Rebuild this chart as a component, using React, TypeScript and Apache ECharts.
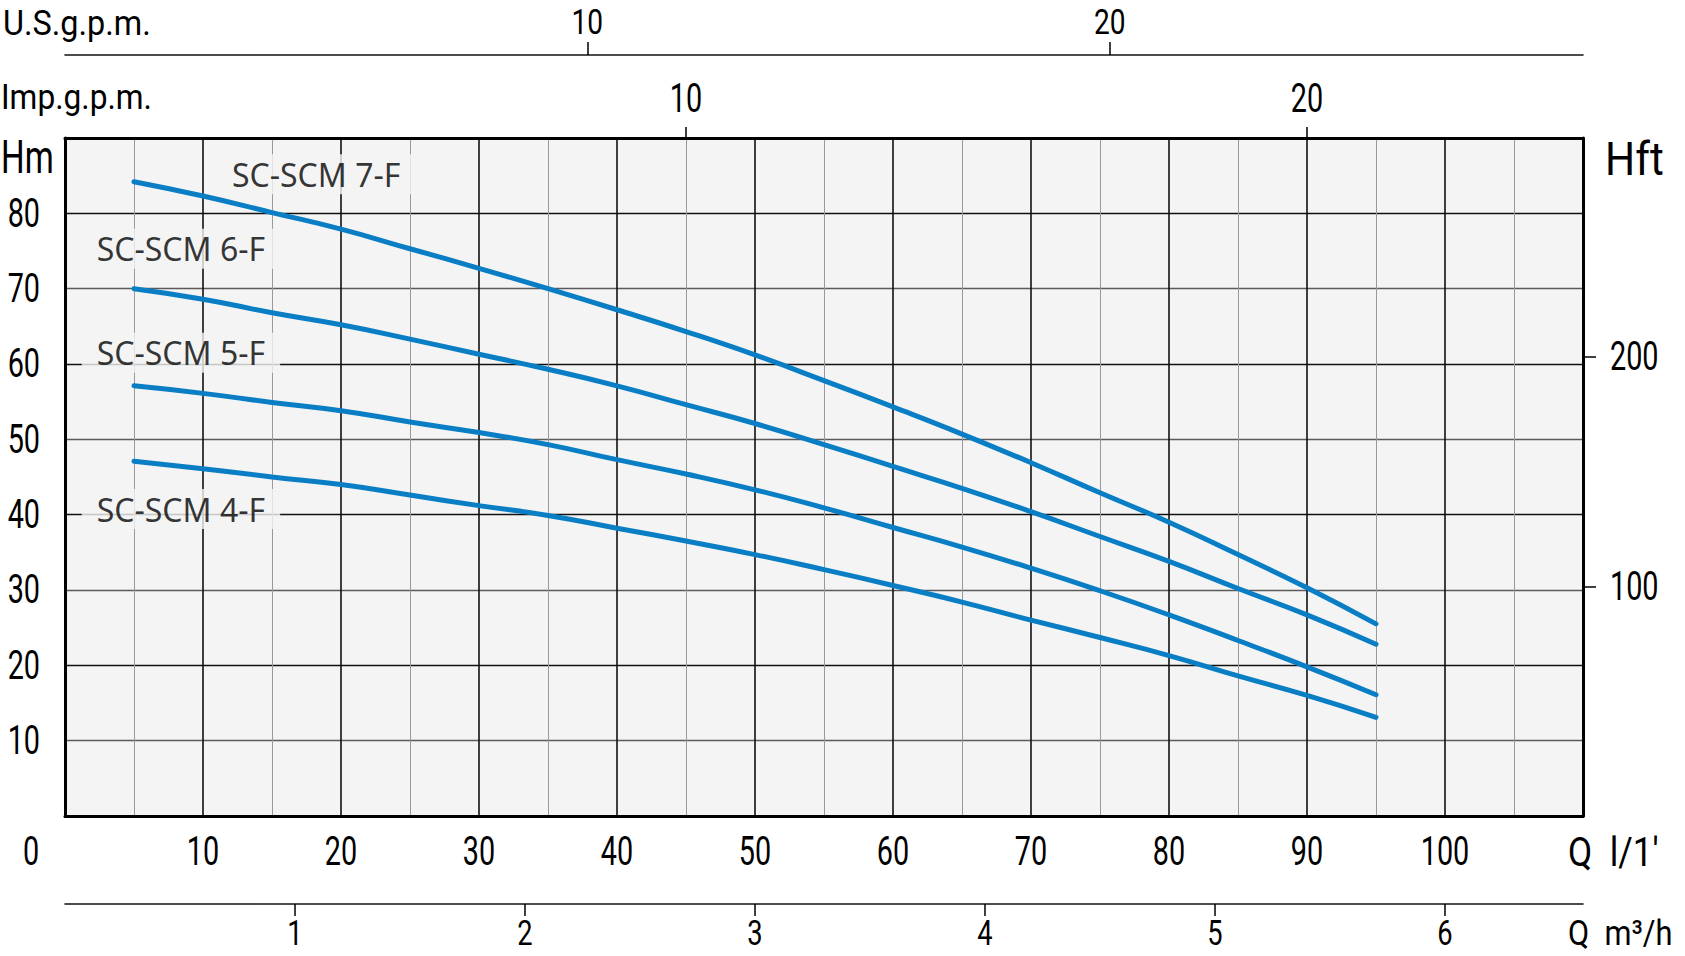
import React, { useEffect, useRef } from 'react';
import * as echarts from 'echarts';

// ---- data ----
const flowLpm = [5, 10, 15, 20, 25, 30, 35, 40, 45, 50, 55, 60, 65, 70, 75, 80, 85, 90, 95];
const head7F = [84.2, 82.3, 80.1, 77.9, 75.3, 72.7, 70.0, 67.2, 64.3, 61.2, 57.8, 54.3, 50.7, 46.9, 42.9, 39.0, 34.7, 30.3, 25.5];
const head6F = [70.0, 68.6, 66.8, 65.2, 63.3, 61.3, 59.3, 57.1, 54.6, 52.1, 49.3, 46.4, 43.5, 40.4, 37.1, 33.8, 30.2, 26.7, 22.8];
const head5F = [57.1, 56.1, 54.9, 53.8, 52.3, 50.9, 49.3, 47.3, 45.4, 43.3, 40.9, 38.3, 35.7, 32.9, 29.9, 26.7, 23.3, 19.8, 16.1];
const head4F = [47.1, 46.1, 45.0, 44.0, 42.6, 41.2, 39.9, 38.2, 36.5, 34.7, 32.7, 30.6, 28.4, 26.0, 23.7, 21.3, 18.6, 16.0, 13.1];

const modelNames = ['SC-SCM 7-F', 'SC-SCM 6-F', 'SC-SCM 5-F', 'SC-SCM 4-F'];
const labelFlow = [18.2, 8.4, 8.4, 8.4];
const labelHead = [85.2, 75.3, 61.5, 40.75];

const lpmTicks = [10, 20, 30, 40, 50, 60, 70, 80, 90, 100];
const headTicks = [10, 20, 30, 40, 50, 60, 70, 80];
const usGpmTicks = [10, 20];
const impGpmTicks = [10, 20];
const m3hTicks = [1, 2, 3, 4, 5, 6];
const hftTicks = [100, 200];

// unit conversions
const LPM_MAX = 110;
const HEAD_MAX = 90;
const LPM_PER_USG = 3.785;
const LPM_PER_IMPG = 4.5; // as drawn on the chart
const LPM_PER_M3H = 1000 / 60;
const FT_PER_M = 3.28084;

const TECH = "Roboto, 'Liberation Sans', sans-serif";
const LABEL_FONT = "'Noto Sans', 'Open Sans', sans-serif";
const CURVE = '#0a7ec4';
const PLOT_BG = '#f4f4f4';

const txt = (text: string, x: number, y: number, fs: number, sx: number, align: string = 'center') => ({
  type: 'text',
  x,
  y,
  scaleX: sx,
  silent: true,
  z: 10,
  style: { text, fontFamily: TECH, fontSize: fs, fill: '#000', align, verticalAlign: 'middle' },
});

export default function App() {
  const ref = useRef<HTMLDivElement>(null);

  useEffect(() => {
    if (!ref.current) return;
    const chart = echarts.init(ref.current, null, { renderer: 'svg' });

    const mk = (arr: number[]) => flowLpm.map((x, i) => [x, arr[i]]);
    const curves = [head7F, head6F, head5F, head4F];
    const tickStyle = { color: '#000', width: 1.5 };

    const option: any = {
      animation: false,
      backgroundColor: '#ffffff',
      grid: {
        left: 65,
        right: 1685 - 1583,
        top: 138,
        bottom: 956 - 816,
        show: true,
        backgroundColor: PLOT_BG,
        borderWidth: 0,
      },
      xAxis: [
        {
          type: 'value',
          position: 'bottom',
          min: 0,
          max: LPM_MAX,
          interval: 10,
          axisLine: { show: true, onZero: false, lineStyle: { color: '#000', width: 3 } },
          axisTick: { show: false },
          axisLabel: { show: false },
          splitLine: { show: true, lineStyle: { color: '#111', width: 1.6 } },
          minorTick: { show: false, splitNumber: 2 },
          minorSplitLine: { show: true, lineStyle: { color: '#999', width: 1 } },
        },
        {
          type: 'value',
          position: 'top',
          offset: 0,
          min: 0,
          max: LPM_MAX / LPM_PER_IMPG,
          z: 5,
          axisLine: { show: true, onZero: false, lineStyle: { color: '#000', width: 3 } },
          axisTick: { show: true, customValues: impGpmTicks, length: 11, lineStyle: tickStyle },
          axisLabel: { show: false },
          splitLine: { show: false },
        },
        {
          type: 'value',
          position: 'top',
          offset: 138 - 55,
          min: 0,
          max: LPM_MAX / LPM_PER_USG,
          axisLine: { show: true, onZero: false, lineStyle: { color: '#111', width: 1.6 } },
          axisTick: { show: true, customValues: usGpmTicks, length: 13, lineStyle: tickStyle },
          axisLabel: { show: false },
          splitLine: { show: false },
        },
        {
          type: 'value',
          position: 'bottom',
          offset: 904 - 816,
          min: 0,
          max: LPM_MAX / LPM_PER_M3H,
          axisLine: { show: true, onZero: false, lineStyle: { color: '#111', width: 1.6 } },
          axisTick: { show: true, customValues: m3hTicks, length: 12, lineStyle: tickStyle },
          axisLabel: { show: false },
          splitLine: { show: false },
        },
      ],
      yAxis: [
        {
          type: 'value',
          position: 'left',
          min: 0,
          max: HEAD_MAX,
          interval: 10,
          axisLine: { show: true, onZero: false, lineStyle: { color: '#000', width: 3 } },
          axisTick: { show: false },
          axisLabel: { show: false },
          splitLine: { show: true, lineStyle: { color: ['#111', '#5a5a5a'], width: 1.3 } },
        },
        {
          type: 'value',
          position: 'right',
          min: 0,
          max: HEAD_MAX * FT_PER_M,
          z: 5,
          axisLine: { show: true, onZero: false, lineStyle: { color: '#000', width: 3 } },
          axisTick: { show: true, customValues: hftTicks, length: 13, lineStyle: tickStyle },
          axisLabel: { show: false },
          splitLine: { show: false },
        },
      ],
      series: [
        ...curves.map((c, i) => ({
          type: 'line',
          name: modelNames[i],
          xAxisIndex: 0,
          yAxisIndex: 0,
          data: mk(c),
          smooth: true,
          showSymbol: false,
          symbol: 'none',
          lineStyle: { color: CURVE, width: 5, cap: 'round' },
          z: 3,
        })),
        {
          type: 'scatter',
          xAxisIndex: 0,
          yAxisIndex: 0,
          symbolSize: 1,
          z: 4,
          silent: true,
          data: modelNames.map((n, i) => ({ name: n, value: [labelFlow[i], labelHead[i]] })),
          label: {
            show: true,
            position: 'inside',
            formatter: '{b}',
            fontFamily: LABEL_FONT,
            fontSize: 32,
            lineHeight: 32,
            color: '#000',
            backgroundColor: PLOT_BG,
            padding: [4, 15, 4, 15],
            align: 'center',
            verticalAlign: 'middle',
          },
          itemStyle: { color: 'rgba(0,0,0,0)' },
        },
      ],
    };

    chart.setOption(option);

    const px = (axis: any, v: number) => chart.convertToPixel(axis, v) as number;
    const NARROW = 0.72;
    const graphics: any[] = [];
    lpmTicks.forEach((v) => graphics.push(txt(String(v), px({ xAxisIndex: 0 }, v), 852, 40, NARROW)));
    graphics.push(txt('0', 31, 852, 40, NARROW));
    m3hTicks.forEach((v) => graphics.push(txt(String(v), px({ xAxisIndex: 3 }, v), 933, 35, 0.78)));
    usGpmTicks.forEach((v) => graphics.push(txt(String(v), px({ xAxisIndex: 2 }, v), 22, 36, 0.78)));
    impGpmTicks.forEach((v) => graphics.push(txt(String(v), px({ xAxisIndex: 1 }, v), 99, 40, NARROW)));
    headTicks.forEach((v) => graphics.push(txt(String(v), 40, px({ yAxisIndex: 0 }, v), 40, NARROW, 'right')));
    hftTicks.forEach((v) => graphics.push(txt(String(v), 1610, px({ yAxisIndex: 1 }, v), 40, NARROW, 'left')));

    graphics.push(txt('U.S.g.p.m.', 3, 22, 36, 0.9, 'left'));
    graphics.push(txt('Imp.g.p.m.', 1, 97, 36, 0.88, 'left'));
    graphics.push(txt('Hm', 1, 158, 46, 0.72, 'left'));
    graphics.push(txt('Hft', 1605, 159, 46, 0.92, 'left'));
    graphics.push(txt("Q  l/1'", 1568, 852, 40, 0.88, 'left'));
    graphics.push(txt('Q  m³/h', 1568, 933, 35, 0.88, 'left'));

    chart.setOption({ graphic: graphics });
    return () => chart.dispose();
  }, []);

  return <div ref={ref} style={{ position: 'absolute', left: 0, top: 0, width: 1685, height: 956 }} />;
}
